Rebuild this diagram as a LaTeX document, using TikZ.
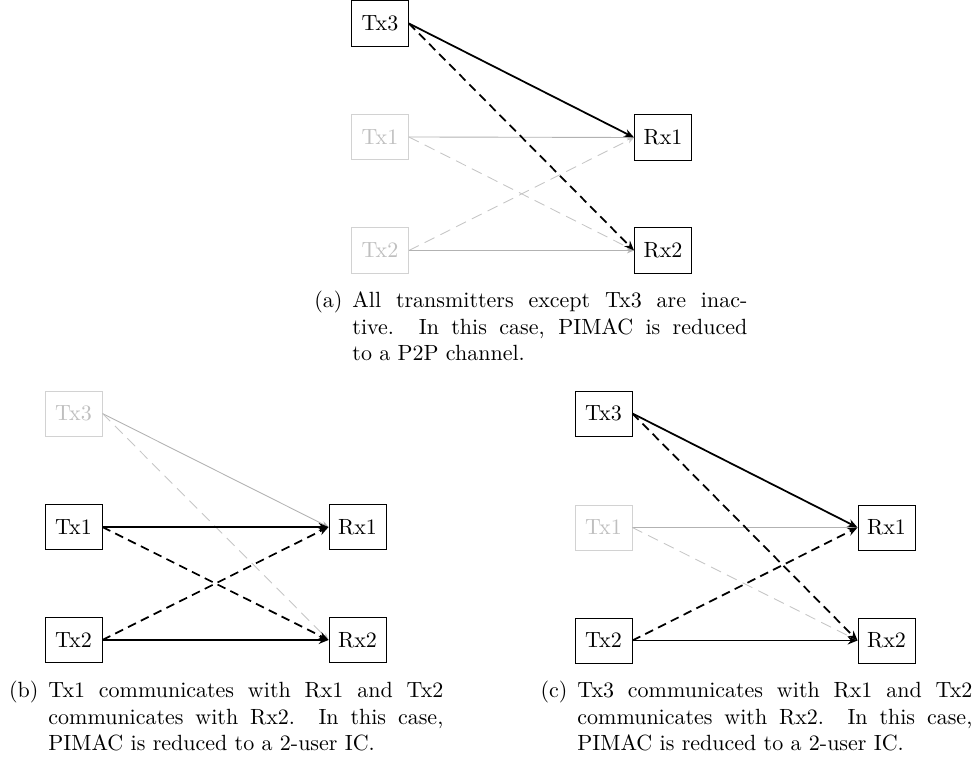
\documentclass[tikz,border=0pt]{standalone}
\usetikzlibrary{arrows.meta}
\begin{document}
\begin{tikzpicture}[x=0.4545pt,y=-0.4545pt,
  box/.style={draw,line width=0.4pt,minimum width=25.9pt,minimum height=20.5pt,inner sep=0pt},
  idlebox/.style={box,draw=gray!35,text=gray!50},
  live/.style={thick,-{Stealth[length=4.5pt,width=3.6pt]}},
  livedash/.style={live,dash pattern=on 4pt off 2.5pt},
  idle/.style={gray!60,line width=0.4pt,-{Stealth[length=3.2pt,width=2.6pt]}},
  idledash/.style={idle,draw=gray!45,dash pattern=on 5pt off 3pt},
  capt/.style={text width=179.5pt,align=justify,inner sep=0pt,anchor=base west}]
\useasboundingbox (0,0) rectangle (977,762);

% ---- (a): only Tx3 active
\node[box]     (a-tx3) at (380,23.5)  {Tx3};
\node[idlebox] (a-tx1) at (380,137)   {Tx1};
\node[idlebox] (a-tx2) at (380,250.5) {Tx2};
\node[box]     (a-rx1) at (663,137.5) {Rx1};
\node[box]     (a-rx2) at (663,250.5) {Rx2};
\draw[idle]     (a-tx1.east) -- (a-rx1.west);
\draw[idledash] (a-tx1.east) -- (a-rx2.west);
\draw[idledash] (a-tx2.east) -- (a-rx1.west);
\draw[idle]     (a-tx2.east) -- (a-rx2.west);
\draw[live]     (a-tx3.east) -- (a-rx1.west);
\draw[livedash] (a-tx3.east) -- (a-rx2.west);
\node[capt] (a-cap) at (352,308) {\llap{(a)\hspace{4.5pt}}All transmitters except Tx3 are inac-\linebreak tive. In this case, PIMAC is reduced\linebreak to a P2P channel.};

% ---- (b): Tx1 and Tx2 active
\node[idlebox] (b-tx3) at (73.5,413.5) {Tx3};
\node[box]     (b-tx1) at (73.5,527)   {Tx1};
\node[box]     (b-tx2) at (73.5,640)   {Tx2};
\node[box]     (b-rx1) at (357.5,527)  {Rx1};
\node[box]     (b-rx2) at (357.5,640)  {Rx2};
\draw[idle]     (b-tx3.east) -- (b-rx1.west);
\draw[idledash] (b-tx3.east) -- (b-rx2.west);
\draw[live]     (b-tx1.east) -- (b-rx1.west);
\draw[livedash] (b-tx1.east) -- (b-rx2.west);
\draw[livedash] (b-tx2.east) -- (b-rx1.west);
\draw[live]     (b-tx2.east) -- (b-rx2.west);
\node[capt] (b-cap) at (48,698) {\llap{(b)\hspace{4.5pt}}Tx1 communicates with Rx1 and Tx2\linebreak communicates with Rx2. In this case,\linebreak PIMAC is reduced to a 2-user IC.};

% ---- (c): Tx3 and Tx2 active
\node[box]     (c-tx3) at (603.5,413.5) {Tx3};
\node[idlebox] (c-tx1) at (603.5,527.5) {Tx1};
\node[box]     (c-tx2) at (603.5,640.5) {Tx2};
\node[box]     (c-rx1) at (886.5,527.5) {Rx1};
\node[box]     (c-rx2) at (886.5,640.5) {Rx2};
\draw[idle]     (c-tx1.east) -- (c-rx1.west);
\draw[idledash] (c-tx1.east) -- (c-rx2.west);
\draw[live]     (c-tx3.east) -- (c-rx1.west);
\draw[livedash] (c-tx3.east) -- (c-rx2.west);
\draw[livedash] (c-tx2.east) -- (c-rx1.west);
\draw[live]     (c-tx2.east) -- (c-rx2.west);
\node[capt] (c-cap) at (577,698) {\llap{(c)\hspace{4.5pt}}Tx3 communicates with Rx1 and Tx2\linebreak communicates with Rx2. In this case,\linebreak PIMAC is reduced to a 2-user IC.};
\end{tikzpicture}
\end{document}
